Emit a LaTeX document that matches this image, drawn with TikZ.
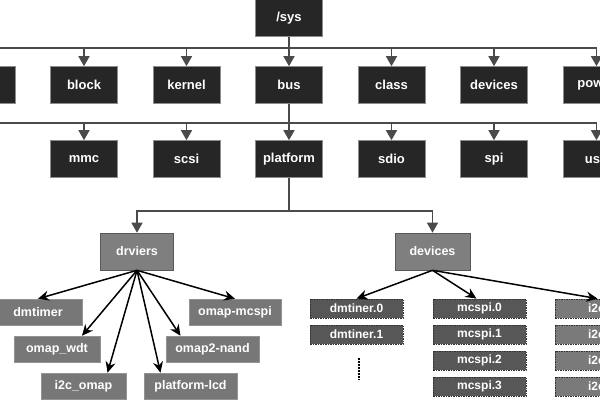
\documentclass[tikz,border=0pt]{standalone}
\usepackage{fontspec}
\setmainfont{Liberation Sans}
\usetikzlibrary{arrows.meta}

\definecolor{dirblack}{HTML}{262626}
\definecolor{diredge}{HTML}{8C8C8C}
\definecolor{linegray}{HTML}{4A4A4A}
\definecolor{midgray}{HTML}{7F7F7F}
\definecolor{leafgray}{HTML}{777777}
\definecolor{devgray}{HTML}{575757}
\definecolor{i2cgray}{HTML}{7A7A7A}

\tikzset{
  dirbox/.style={draw=diredge, fill=dirblack, text=white, line width=0.6pt,
    font=\bfseries\fontsize{13}{13}\selectfont, minimum width=67pt, minimum height=37pt, inner sep=0pt},
  midbox/.style={draw=#1, fill=midgray, text=white, line width=0.6pt,
    font=\bfseries\fontsize{12.5}{12.5}\selectfont, minimum width=73pt, minimum height=37pt, inner sep=0pt},
  midbox/.default=gray!70!black,
  drvbox/.style={draw=gray!85, fill=leafgray, text=white, line width=0.5pt,
    font=\bfseries\fontsize{12.5}{12.5}\selectfont, minimum height=26pt, inner sep=0pt},
  devbox/.style={draw=black!80, fill=devgray, text=white, line width=0.8pt, dash pattern=on 1.5pt off 1pt,
    font=\bfseries\fontsize{12}{12}\selectfont, minimum width=93pt, minimum height=19pt, inner sep=0pt},
  treeline/.style={draw=linegray, line width=1.4pt},
  treearrow/.style={treeline, -{Triangle[length=10pt,width=11pt]}},
  leafarrow/.style={draw=black, line width=1.5pt, -{Stealth[length=11pt,width=10pt]}}
}

\begin{document}
\begin{tikzpicture}[x=1pt,y=-1pt]
  \useasboundingbox (0,0) rectangle (600,400);

  % root of the tree
  \node[dirbox] (sys) at (289,18) {/sys};

  % first level below /sys
  \foreach \name/\lbl [count=\k from 0] in {dev/{},block/block,kernel/kernel,bus/bus,class/class,sysdev/devices,power/power}
  {
    \node[dirbox] (\name) at (-18.5+102.5*\k,85) {\lbl};
    \draw[treearrow] (sys.south) -- ++(0,11) -| (\name.north);
  }

  % second level below bus
  \foreach \name [count=\k] in {mmc,scsi,platform,sdio,spi,usb}
  {
    \node[dirbox] (\name) at (-18.5+102.5*\k,159) {\name};
    \draw[treearrow] (bus.south) -- ++(0,19) -| (\name.north);
  }
  \coordinate (busleft) at (-18.5,140); % line runs on past the left edge
  \draw[treeline] (bus.south) -- ++(0,19) -| (busleft);

  % platform splits into drivers and devices
  \node[midbox] (drv) at (137,251.5) {drviers};
  \node[midbox, minimum width=75pt] (devs) at (432.5,251.5) {devices};
  \draw[treearrow] (platform.south) -- ++(0,33) -| (drv.north);
  \draw[treearrow] (platform.south) -- ++(0,33) -| (devs.north);

  % drivers
  \node[drvbox, minimum width=88pt] (dmtimer) at (38,312) {dmtimer};
  \node[drvbox, minimum width=86pt] (wdt) at (57,349) {omap\_wdt};
  \node[drvbox, minimum width=85pt] (i2comap) at (83.5,386) {i2c\_omap};
  \node[drvbox, minimum width=93pt] (lcd) at (190.5,386) {platform-lcd};
  \node[drvbox, minimum width=93pt] (nand) at (212.5,349) {omap2-nand};
  \node[drvbox, minimum width=92pt] (mcspidrv) at (235,312) {omap-mcspi};

  \draw[leafarrow] (drv.south) -- (dmtimer.north);
  \draw[leafarrow] (drv.south) -- ([xshift=25pt]wdt.north);
  \draw[leafarrow] (drv.south) -- ([xshift=24pt]i2comap.north);
  \draw[leafarrow] (drv.south) -- ([xshift=-30pt]lcd.north);
  \draw[leafarrow] (drv.south) -- ([xshift=-32pt]nand.north);
  \draw[leafarrow] (drv.south) -- (mcspidrv.north);

  % devices
  \foreach \i in {0,1}
    \node[devbox] (dmt\i) at (356.5,308.5+26*\i) {dmtiner.\i};
  \foreach \i in {0,...,3}
    \node[devbox] (mcspi\i) at (479.5,308.5+26*\i) {mcspi.\i};
  \foreach \i in {0,...,3}
    \node[devbox, fill=i2cgray] (i2c\i) at (601.5,308.5+26*\i) {i2c.\i};

  \coordinate (dotstop) at (359,358);
  \coordinate (dotsbot) at (359,380);
  \draw[black, line width=2pt, dash pattern=on 1.6pt off 1.4pt] (dotstop) -- (dotsbot); % more timers

  \draw[leafarrow] (devs.south) -- (dmt0.north);
  \draw[leafarrow] (devs.south) -- ([xshift=-3pt]mcspi0.north);
  \draw[leafarrow] (devs.south) -- ([xshift=-4pt]i2c0.north);

\end{tikzpicture}
\end{document}
